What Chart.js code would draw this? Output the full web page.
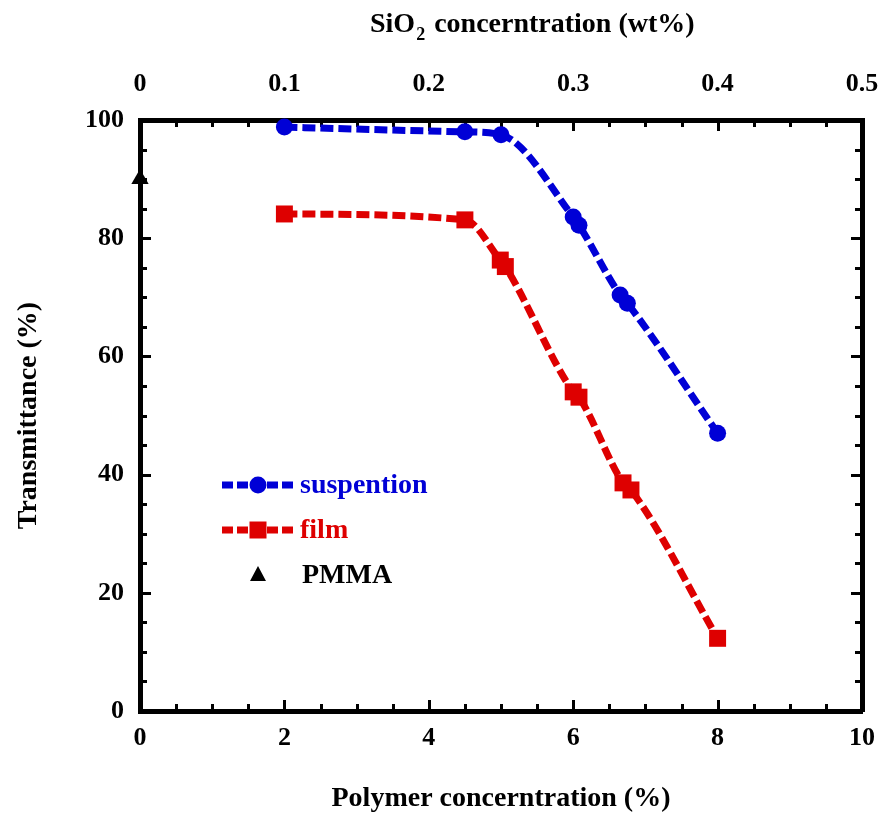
<!DOCTYPE html>
<html>
<head>
<meta charset="utf-8">
<script src="https://cdn.jsdelivr.net/npm/chart.js@4.4.1/dist/chart.umd.min.js"></script>
<style>
  html, body { margin: 0; padding: 0; background: #fff; }
  #wrap { width: 884px; height: 816px; }
</style>
</head>
<body>
<div id="wrap"><canvas id="myChart" width="884" height="816"></canvas></div>
<script>
// polymer concentration (%) vs transmittance (%)
var suspentionX = [2, 4.5, 5, 6.0, 6.08, 6.65, 6.75, 8];
var suspentionY = [98.8, 98, 97.5, 83.6, 82.2, 70.4, 69.0, 47];

var filmX = [2, 4.5, 4.99, 5.06, 6.0, 6.08, 6.69, 6.8, 8];
var filmY = [84.1, 83.1, 76.3, 75.2, 54.0, 53.1, 38.6, 37.4, 12.3];

var pmmaX = [0];
var pmmaY = [90];

// SiO2 labels shown on the top axis, one per major polymer tick
var topTickLabels = ['0', '0.1', '0.2', '0.3', '0.4', '0.5'];

var blue = '#0000d6';
var red = '#de0000';
var fontFamily = "'Liberation Serif', 'Times New Roman', serif";

function toPoints(xs, ys) {
    return xs.map(function(x, i){ return {x: x, y: ys[i]}; });
}

// inward ticks on all four sides of the frame
var frameTicks = {
    id: 'frameTicks',
    beforeDatasetsDraw: function(chart) {
        var ctx = chart.ctx;
        var a = chart.chartArea;
        var sx = chart.scales.x, sy = chart.scales.y;
        ctx.save();
        ctx.strokeStyle = '#000';
        ctx.lineWidth = 3;
        for (var v = 0.5; v < 10; v += 0.5) {
            var px = Math.round(sx.getPixelForValue(v)) + 0.5;
            var len = (v % 2 === 0) ? 11 : 7;
            ctx.beginPath();
            ctx.moveTo(px, a.bottom); ctx.lineTo(px, a.bottom - len);
            ctx.moveTo(px, a.top); ctx.lineTo(px, a.top + len);
            ctx.stroke();
        }
        for (var w = 5; w < 100; w += 5) {
            var py = Math.round(sy.getPixelForValue(w)) + 0.5;
            var l2 = (w % 20 === 0) ? 11 : 7;
            ctx.beginPath();
            ctx.moveTo(a.left, py); ctx.lineTo(a.left + l2, py);
            ctx.moveTo(a.right, py); ctx.lineTo(a.right - l2, py);
            ctx.stroke();
        }
        ctx.restore();
    }
};

function drawMarker(ctx, style, color, x, y) {
    ctx.fillStyle = color;
    ctx.beginPath();
    if (style === 'circle') {
        ctx.arc(x, y, 8.5, 0, Math.PI * 2);
    } else if (style === 'rect') {
        ctx.rect(x - 8.5, y - 8.5, 17, 17);
    } else {
        ctx.moveTo(x, y - 9);
        ctx.lineTo(x + 8, y + 6);
        ctx.lineTo(x - 8, y + 6);
        ctx.closePath();
    }
    ctx.fill();
}

// legend box inside the plot plus the SiO2 title with its subscript
var annotations = {
    id: 'annotations',
    afterDraw: function(chart) {
        var ctx = chart.ctx;
        var a = chart.chartArea;
        var items = [
            {text: 'suspention', color: blue, style: 'circle', line: true},
            {text: 'film', color: red, style: 'rect', line: true},
            {text: 'PMMA', color: '#000', style: 'triangle', line: false}
        ];
        ctx.save();
        items.forEach(function(it, i){
            var y = a.top + 365 + i * 45;
            var x0 = a.left + 82, x1 = a.left + 155, xm = a.left + 118;
            if (it.line) {
                ctx.strokeStyle = it.color;
                ctx.lineWidth = 7;
                ctx.setLineDash([11, 4]);
                ctx.beginPath();
                ctx.moveTo(x0, y); ctx.lineTo(x1, y);
                ctx.stroke();
                ctx.setLineDash([]);
            }
            drawMarker(ctx, it.style, it.color, xm, y);
            ctx.fillStyle = it.color;
            ctx.font = 'bold 28px ' + fontFamily;
            ctx.textBaseline = 'middle';
            ctx.textAlign = 'left';
            ctx.fillText(it.text, it.line ? a.left + 160 : a.left + 162, y + 1);
        });

        // top axis title: SiO2 concerntration (wt%)
        ctx.fillStyle = '#000';
        ctx.textBaseline = 'alphabetic';
        ctx.font = 'bold 28px ' + fontFamily;
        var x = 370, base = 32;
        ctx.fillText('SiO', x, base);
        x += ctx.measureText('SiO').width + 1;
        ctx.font = 'bold 18px ' + fontFamily;
        ctx.fillText('2', x, base + 8);
        x += ctx.measureText('2').width + 2;
        ctx.font = 'bold 28px ' + fontFamily;
        ctx.fillText(' concerntration (wt%)', x, base);
        ctx.restore();
    }
};

var tickFont = {family: fontFamily, size: 26, weight: 'bold'};
var titleFont = {family: fontFamily, size: 28, weight: 'bold'};
var frame = {display: true, width: 5, color: '#000'};
var noGrid = {drawOnChartArea: false, drawTicks: false};

// keep the end tick labels from pushing the plot area inwards
function fixHorizontal(height) {
    return function(s){
        s.height = height;
        s.paddingLeft = 0;
        s.paddingRight = 0;
    };
}

var ctx = document.getElementById('myChart').getContext('2d');

var transChart = new Chart(ctx, {
    type: 'line',
    data: {
        datasets: [{
            label: 'suspention',
            data: toPoints(suspentionX, suspentionY),
            borderColor: blue,
            backgroundColor: blue,
            borderWidth: 7,
            borderDash: [13, 5],
            cubicInterpolationMode: 'monotone',
            pointStyle: 'circle',
            pointRadius: 8.5,
            pointBorderWidth: 0,
            clip: false
        }, {
            label: 'film',
            data: toPoints(filmX, filmY),
            borderColor: red,
            backgroundColor: red,
            borderWidth: 7,
            borderDash: [13, 5],
            cubicInterpolationMode: 'monotone',
            pointStyle: 'rect',
            pointRadius: 12,
            pointBorderWidth: 0,
            clip: false
        }, {
            label: 'PMMA',
            data: toPoints(pmmaX, pmmaY),
            showLine: false,
            backgroundColor: '#000',
            borderColor: '#000',
            pointStyle: 'triangle',
            pointRadius: 10,
            pointBorderWidth: 0,
            clip: false
        }]
    },
    options: {
        responsive: false,
        animation: false,
        events: [],
        layout: {padding: 0},
        plugins: {
            legend: {display: false},
            tooltip: {enabled: false}
        },
        scales: {
            x: {
                type: 'linear', position: 'bottom', min: 0, max: 10,
                ticks: {stepSize: 2, color: '#000', font: tickFont, padding: 12},
                grid: noGrid, border: frame,
                title: {display: true, text: 'Polymer concerntration (%)', color: '#000',
                        font: titleFont, padding: {top: 0, bottom: 0}},
                afterFit: fixHorizontal(105)
            },
            x2: {
                type: 'linear', position: 'top', min: 0, max: 10,
                ticks: {stepSize: 2, color: '#000', font: tickFont, padding: 20,
                        callback: function(v){ return topTickLabels[v / 2]; }},
                grid: noGrid, border: frame,
                afterFit: fixHorizontal(120)
            },
            y: {
                type: 'linear', position: 'left', min: 0, max: 100,
                ticks: {stepSize: 20, color: '#000', font: tickFont, padding: 16},
                grid: noGrid, border: frame,
                title: {display: true, text: 'Transmittance (%)', color: '#000',
                        font: titleFont, padding: {top: 12, bottom: 0}},
                afterFit: function(s){ s.width = 140; }
            },
            y2: {
                type: 'linear', position: 'right', min: 0, max: 100,
                ticks: {display: false},
                grid: noGrid, border: frame,
                afterFit: function(s){ s.width = 22; }
            }
        }
    },
    plugins: [frameTicks, annotations]
});
</script>
</body>
</html>
